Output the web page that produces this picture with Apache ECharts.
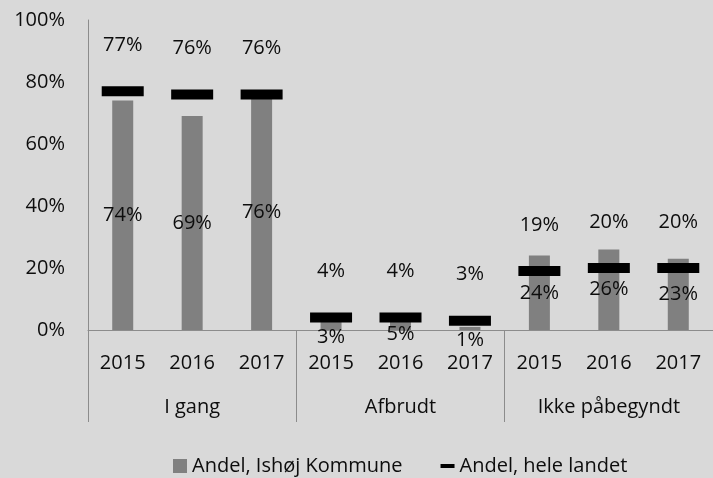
<!DOCTYPE html>
<html>
<head>
<meta charset="utf-8">
<script src="https://cdn.jsdelivr.net/npm/echarts@6/dist/echarts.min.js"></script>
<style>
  html, body { margin: 0; padding: 0; background: #d9d9d9; }
  #chart { width: 713px; height: 478px; }
</style>
</head>
<body>
<div id="chart"></div>
<script>
// Status groups and the years within each group
const groups = ['I gang', 'Afbrudt', 'Ikke påbegyndt'];
const years = ['2015', '2016', '2017'];
const categories = ['2015', '2016', '2017', '2015', '2016', '2017', '2015', '2016', '2017'];

// Shares in percent
const ishoj = [74, 69, 76, 3, 5, 1, 24, 26, 23];
const landet = [77, 76, 76, 4, 4, 3, 19, 20, 20];

// Y axis ticks
const yTicks = [0, 20, 40, 60, 80, 100];

const FONT = 'Open Sans';
const TXT = '#0d0d0d';
const AXIS = '#8c8c8c';

// Labels of very short bars sit a little lower, over the axis line
const barData = ishoj.map(v => (v < 10
  ? { value: v, label: { offset: [0, 12] } }
  : v));

const chart = echarts.init(document.getElementById('chart'));
chart.setOption({
  backgroundColor: '#d9d9d9',
  animation: false,
  textStyle: { fontFamily: FONT, color: TXT },
  grid: { left: 88, right: 0, top: 20, bottom: 148 },
  xAxis: [
    {
      type: 'category',
      data: categories,
      axisLine: { show: true, lineStyle: { color: AXIS, width: 1 } },
      axisTick: { show: false },
      axisLabel: { interval: 0, margin: 23, fontSize: 20, color: TXT, fontFamily: FONT }
    },
    {
      type: 'category',
      data: groups,
      position: 'bottom',
      axisLine: { show: false },
      axisTick: { show: true, length: 92, lineStyle: { color: AXIS, width: 1 } },
      axisLabel: { interval: 0, margin: 67, fontSize: 20, color: TXT, fontFamily: FONT }
    }
  ],
  yAxis: {
    type: 'value',
    min: yTicks[0],
    max: yTicks[yTicks.length - 1],
    interval: 20,
    axisLine: { show: true, lineStyle: { color: AXIS, width: 1 } },
    axisTick: { show: false },
    splitLine: { show: false },
    axisLabel: { formatter: '{value}%', fontSize: 20, color: TXT, fontFamily: FONT, margin: 23 }
  },
  legend: {
    bottom: -3,
    left: 168,
    itemWidth: 14,
    itemHeight: 14,
    itemGap: 38,
    textStyle: { fontSize: 20, color: TXT, fontFamily: FONT },
    data: [
      { name: 'Andel, Ishøj Kommune', icon: 'rect' },
      { name: 'Andel, hele landet', icon: 'path://M0,0L14,0L14,4L0,4Z' }
    ]
  },
  series: [
    {
      name: 'Andel, Ishøj Kommune',
      type: 'bar',
      xAxisIndex: 0,
      data: barData,
      barWidth: 21,
      itemStyle: { color: '#808080' },
      label: {
        show: true,
        position: 'inside',
        formatter: '{c}%',
        fontSize: 20,
        color: TXT,
        fontFamily: FONT
      }
    },
    {
      name: 'Andel, hele landet',
      type: 'scatter',
      xAxisIndex: 0,
      data: landet,
      symbol: 'rect',
      symbolSize: [42, 10],
      itemStyle: { color: '#000000', opacity: 1 },
      z: 5,
      label: {
        show: true,
        position: 'top',
        distance: 31,
        formatter: '{c}%',
        fontSize: 20,
        color: TXT,
        fontFamily: FONT
      }
    }
  ]
});
</script>
</body>
</html>
